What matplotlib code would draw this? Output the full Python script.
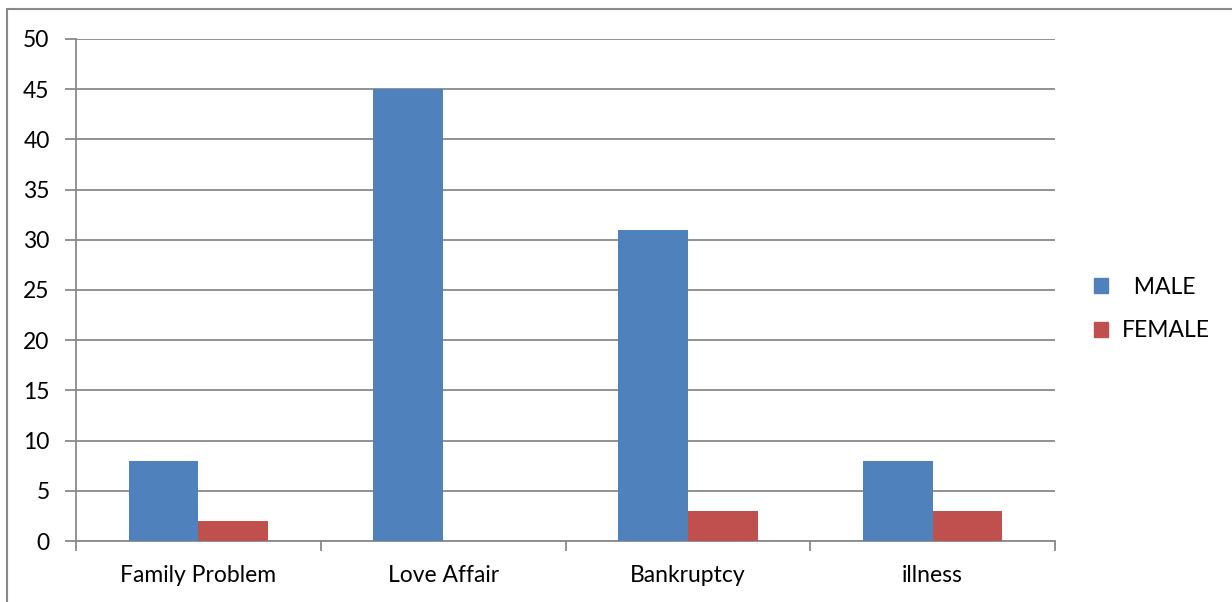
import numpy as np
import matplotlib.pyplot as plt
from matplotlib.patches import Rectangle, Patch

categories = ["Family Problem", "Love Affair", "Bankruptcy", "illness"]
male = [8, 45, 31, 8]
female = [2, 0, 3, 3]
yticks = list(range(0, 55, 5))

plt.rcParams["font.family"] = ["Lato", "DejaVu Sans"]

fig = plt.figure(figsize=(12.32, 6.02), dpi=100)
ax = fig.add_axes([76 / 1232, 1 - 541 / 602, (1055 - 76) / 1232, (541 - 39) / 602])

grey = "#898989"
fs = 16.5
x = np.arange(len(categories))
w = 0.285
ax.bar(x - w / 2, male, w, color="#4f81bd", zorder=3)
ax.bar(x + w / 2, female, w, color="#c0504d", zorder=3)

ax.set_xlim(-0.5, len(categories) - 0.5)
ax.set_ylim(0, 50)
ax.set_yticks(yticks)
ax.yaxis.grid(True, color=grey, linewidth=1.3, zorder=0)

# category labels in the middle, tick marks on the boundaries
ax.set_xticks(x)
ax.set_xticklabels(categories)
ax.set_xticks(np.arange(-0.5, len(categories)), minor=True)
ax.tick_params(axis="x", which="major", length=0, pad=17, labelsize=fs)
ax.tick_params(axis="x", which="minor", length=7, color=grey, width=1.3)
ax.tick_params(axis="y", length=8, color=grey, width=1.3, labelsize=fs, pad=11)

for side in ["top", "right"]:
    ax.spines[side].set_visible(False)
for side in ["left", "bottom"]:
    ax.spines[side].set_color(grey)
    ax.spines[side].set_linewidth(1.3)

handles = [Patch(color="#4f81bd", label="  MALE"), Patch(color="#c0504d", label="FEMALE")]
fig.legend(handles=handles, loc="center left", bbox_to_anchor=(1085 / 1232, 1 - 309 / 602),
           frameon=False, fontsize=fs, handlelength=0.62, handleheight=0.62,
           handletextpad=0.6, labelspacing=1.0, borderaxespad=0, borderpad=0.4)

# outer chart frame
fig.patches.append(Rectangle((7 / 1232, -0.1), 1.2, 1 - 9 / 602 + 0.1,
                             transform=fig.transFigure, fill=False,
                             edgecolor=grey, linewidth=1.5))

fig.savefig("out.png", dpi=100)
